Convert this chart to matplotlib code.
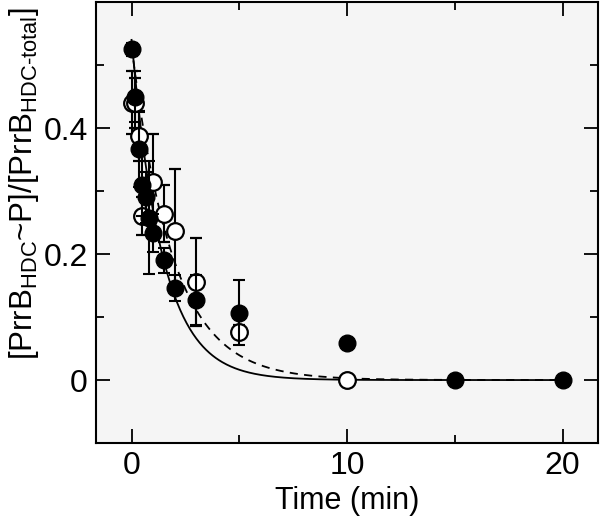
import numpy as np
import matplotlib
matplotlib.use("Agg")
import matplotlib.pyplot as plt
from matplotlib.ticker import MultipleLocator

plt.rcParams['font.family'] = ['Liberation Sans', 'DejaVu Sans']
plt.rcParams['mathtext.fontset'] = 'custom'
plt.rcParams['mathtext.rm'] = 'Liberation Sans'
plt.rcParams['mathtext.it'] = 'Liberation Sans:italic'

# filled circles (solid fit)
t_filled   = [0, 0.17, 0.33, 0.5, 0.67, 0.83, 1.0, 1.5, 2.0, 3.0, 5.0, 10.0, 15.0, 20.0]
y_filled   = [0.525, 0.45, 0.366, 0.31, 0.29, 0.258, 0.233, 0.19, 0.146, 0.127, 0.107, 0.059, 0.0, 0.0]
err_filled = [0.01, 0.04, 0.06, 0.05, 0.04, 0.09, 0.03, 0.02, 0.02, 0.04, 0.052, 0, 0, 0]

# open circles (dashed fit)
t_open   = [0, 0.17, 0.33, 0.5, 1.0, 1.5, 2.0, 3.0, 5.0, 10.0]
y_open   = [0.44, 0.44, 0.387, 0.26, 0.314, 0.264, 0.237, 0.156, 0.077, 0.0]
err_open = [0.05, 0.04, 0.04, 0.03, 0.077, 0.045, 0.098, 0.07, 0.01, 0]

# single exponential fits: amplitude, rate (1/min)
fit_solid  = (0.54, 0.70)
fit_dashed = (0.53, 0.52)

fig = plt.figure(figsize=(6, 5.2), dpi=100)
ax = fig.add_axes([0.16, 0.148, 0.837, 0.848])
ax.set_facecolor('#f5f5f5')

tt = np.linspace(0, 20, 400)
ax.plot(tt, fit_solid[0] * np.exp(-fit_solid[1] * tt), color='black', lw=1.3, zorder=2)
ax.plot(tt, fit_dashed[0] * np.exp(-fit_dashed[1] * tt), color='black', lw=1.3,
        ls=(0, (4.5, 3.5)), zorder=2)

ax.errorbar(t_open, y_open, yerr=err_open, fmt='o', ms=12, mfc='white', mec='black',
            mew=1.6, ecolor='black', elinewidth=1.5, capsize=4, capthick=1.5, zorder=3)
ax.errorbar(t_filled, y_filled, yerr=err_filled, fmt='o', ms=12, mfc='black', mec='black',
            ecolor='black', elinewidth=1.5, capsize=4, capthick=1.5, zorder=4)

ax.set_xlim(-1.65, 21.65)
ax.set_ylim(-0.1, 0.6)
ax.set_xticks([0, 10, 20])
ax.set_xticklabels(['0', '10', '20'])
ax.xaxis.set_minor_locator(MultipleLocator(5))
ax.set_yticks([0, 0.2, 0.4])
ax.set_yticklabels(['0', '0.2', '0.4'])
ax.yaxis.set_minor_locator(MultipleLocator(0.1))
ax.tick_params(which='both', direction='in', top=True, right=True, width=1.3, labelsize=23, pad=6)
ax.tick_params(which='major', length=10)
ax.tick_params(which='minor', length=6)
for s in ax.spines.values():
    s.set_linewidth(1.5)

ax.set_xlabel('Time (min)', fontsize=22, labelpad=3)
ax.set_ylabel('[PrrB$_{\\mathrm{HDC}}$~P]/[PrrB$_{\\mathrm{HDC\u2010total}}$]', fontsize=22.5)
ax.yaxis.set_label_coords(-0.11, 0.588)

fig.savefig('out.png', dpi=100)
